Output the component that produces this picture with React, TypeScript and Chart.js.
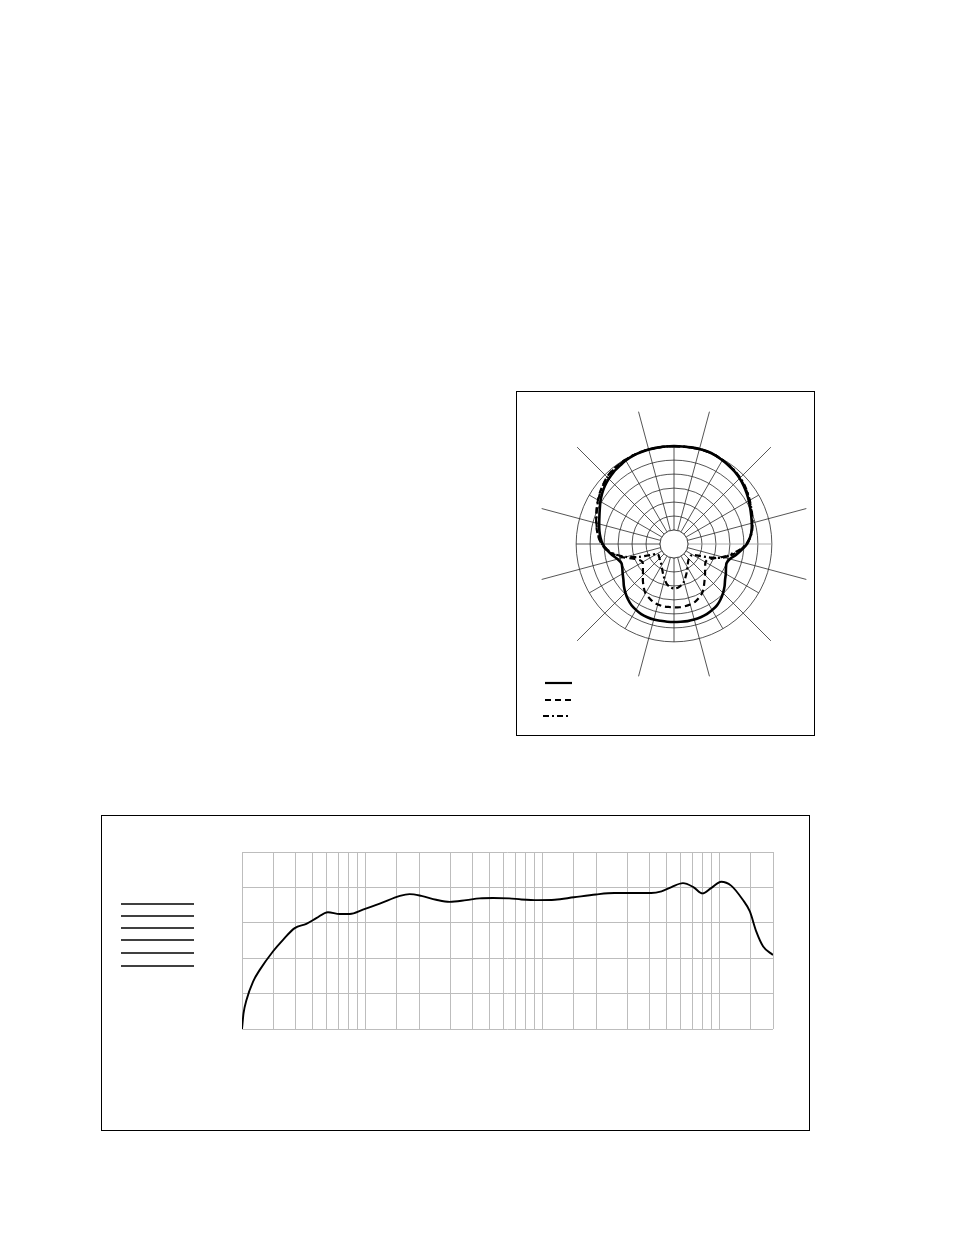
import React, { useEffect, useRef } from 'react';
import { Chart, registerables } from 'chart.js';

Chart.register(...registerables);

// polar pattern: one value every 5 degrees, clockwise from the top (dB)
const polarAngles = Array.from({ length: 72 }, (_, i) => `${i * 5}°`);

const solidDb = [
  0.0, 0.0, 0.1, 0.2, 0.2, 0.0, -0.4, -0.8, -1.2, -1.8, -2.5, -3.3,
  -4.1, -4.9, -5.6, -6.2, -6.8, -7.7, -8.9, -10.7, -12.5, -14.3, -15.0, -14.5,
  -13.6, -12.7, -11.4, -10.2, -9.1, -8.2, -7.7, -7.3, -7.1, -7.0, -7.0, -7.1,
  -7.1, -7.1, -7.1, -7.0, -7.1, -7.3, -7.8, -8.4, -9.3, -10.4, -11.6, -12.9,
  -13.8, -14.6, -15.0, -14.1, -12.5, -10.9, -9.5, -8.6, -7.9, -7.3, -6.6, -5.7,
  -4.6, -3.6, -2.7, -2.0, -1.4, -1.0, -0.5, -0.2, -0.1, 0.0, 0.0, 0.0,
];

const dashedDb = [
  0.0, 0.0, 0.0, 0.1, 0.1, 0.0, -0.3, -0.7, -1.1, -1.7, -2.3, -3.0,
  -3.8, -4.6, -5.4, -6.1, -6.8, -7.7, -9.1, -11.1, -13.6, -17.1, -20.0, -21.8,
  -22.0, -21.4, -20.5, -19.3, -18.0, -16.4, -14.8, -13.8, -13.0, -12.6, -12.4, -12.3,
  -12.3, -12.4, -12.4, -12.6, -13.0, -13.8, -14.6, -16.1, -17.7, -19.3, -20.5, -21.4,
  -22.0, -21.4, -19.6, -16.4, -13.2, -10.7, -9.1, -7.9, -7.0, -6.2, -5.4, -4.5,
  -3.6, -2.7, -1.9, -1.1, -0.6, -0.4, -0.2, -0.1, 0.0, 0.0, 0.0, 0.0,
];

const dashDotDb = [
  0.0, 0.0, 0.1, 0.2, 0.2, 0.0, -0.3, -0.6, -1.0, -1.5, -2.1, -2.9,
  -3.7, -4.5, -5.2, -5.9, -6.6, -7.6, -9.1, -11.4, -14.3, -16.4, -20.7, -25.0,
  -27.1, -27.7, -27.7, -27.5, -27.1, -26.4, -25.4, -24.1, -22.7, -21.1, -20.0, -19.3,
  -19.1, -19.5, -20.4, -22.0, -23.6, -25.0, -26.1, -26.8, -27.3, -27.7, -28.0, -28.2,
  -27.9, -25.7, -21.4, -17.1, -13.6, -11.1, -9.3, -8.0, -7.1, -6.3, -5.5, -4.6,
  -3.7, -2.8, -2.0, -1.3, -0.8, -0.5, -0.3, -0.1, 0.0, 0.0, 0.0, 0.0,
];

const ringDb = [-30, -25, -20, -15, -10, -5, 0];
const polarMin = -35;
const polarMax = 14;

// frequency response
const freqHz = [
  20, 20.4, 21.2, 23.1, 25.2, 29.9, 34.1, 39.7, 46.2, 52.6, 61.2, 71.3,
  81.3, 96.4, 120, 156, 177, 206, 250, 298, 370, 440, 524, 647,
  757, 940, 1170, 1500, 2000, 2540, 3000, 4100, 4690, 5340, 6200, 7090,
  8000, 8940, 10200, 11600, 13500, 14800, 16100, 17600, 20000,
];
const responseDb = [
  -30, -25.6, -21.8, -16.6, -13.3, -8.1, -4.8, -1.5, -0.3, 1.3, 3.0, 2.5,
  2.5, 3.7, 5.4, 7.6, 8.1, 7.6, 6.5, 5.9, 6.4, 6.9, 7.0, 6.9,
  6.6, 6.4, 6.5, 7.2, 8.0, 8.4, 8.4, 8.4, 8.9, 10.1, 11.2, 10.1,
  8.3, 9.8, 11.6, 10.5, 6.5, 3.2, -2.5, -6.7, -9.1,
];
const freqGrid = [
  20, 30, 40, 50, 60, 70, 80, 90, 100, 150, 200, 300, 400, 500, 600, 700, 800, 900,
  1000, 1500, 2000, 3000, 4000, 5000, 6000, 7000, 8000, 9000, 10000, 15000, 20000,
];
const dbGrid = [-30, -20, -10, 0, 10, 20];

const POLAR_GRID = '#2a2a2a';

const polarHole = {
  id: 'polarHole',
  beforeDatasetsDraw(chart: any) {
    const s = chart.scales.r;
    const ctx = chart.ctx;
    const inner = s.getDistanceFromCenterForValue(ringDb[0]);
    const outer = s.getDistanceFromCenterForValue(0);
    ctx.save();
    ctx.lineWidth = 0.8;
    // short spokes every 30 degrees, only inside the outer ring
    for (let i = 0; i < polarAngles.length; i += 6) {
      const a = s.getPointPosition(i, inner);
      const b = s.getPointPosition(i, outer);
      ctx.strokeStyle = i === 18 ? '#9a9a9a' : POLAR_GRID;
      ctx.beginPath();
      ctx.moveTo(a.x, a.y);
      ctx.lineTo(b.x, b.y);
      ctx.stroke();
    }
    ctx.fillStyle = '#fff';
    ctx.strokeStyle = POLAR_GRID;
    ctx.beginPath();
    ctx.arc(s.xCenter, s.yCenter, inner, 0, Math.PI * 2);
    ctx.fill();
    ctx.stroke();
    ctx.restore();
  },
};

const PolarChart: React.FC = () => {
  const ref = useRef<HTMLCanvasElement>(null);

  useEffect(() => {
    if (!ref.current) return;
    const line = (data: number[], width: number, dash: number[]) => ({
      data,
      borderColor: '#000',
      backgroundColor: 'transparent',
      borderWidth: width,
      borderDash: dash,
      pointRadius: 0,
      fill: false,
      tension: 0.25,
    });
    const chart = new Chart(ref.current, {
      type: 'radar',
      data: {
        labels: polarAngles,
        datasets: [
          line(dashedDb, 2.2, [6, 4]),
          line(dashDotDb, 2.2, [6, 3, 2, 3]),
          line(solidDb, 2.6, []),
        ],
      },
      options: {
        animation: false,
        responsive: false,
        events: [],
        plugins: { legend: { display: false }, tooltip: { enabled: false } },
        scales: {
          r: {
            min: polarMin,
            max: polarMax,
            afterBuildTicks: (scale: any) => {
              scale.ticks = ringDb.map((value) => ({ value }));
            },
            ticks: { display: false },
            pointLabels: { display: false },
            grid: { circular: true, color: POLAR_GRID, lineWidth: 0.8 },
            angleLines: {
              display: true,
              lineWidth: 0.8,
              // long spokes at 15°, 45°, 75° ... reach past the rings
              color: (ctx: any) => (ctx.index % 6 === 3 ? POLAR_GRID : 'transparent'),
            },
          },
        },
      } as any,
      plugins: [polarHole],
    });
    return () => chart.destroy();
  }, []);

  return <canvas ref={ref} width={274} height={274} />;
};

const ResponseChart: React.FC = () => {
  const ref = useRef<HTMLCanvasElement>(null);

  useEffect(() => {
    if (!ref.current) return;
    const chart = new Chart(ref.current, {
      type: 'line',
      data: {
        datasets: [
          {
            data: freqHz.map((x, i) => ({ x, y: responseDb[i] })),
            borderColor: '#000',
            borderWidth: 1.9,
            pointRadius: 0,
            fill: false,
            cubicInterpolationMode: 'monotone',
          },
        ],
      },
      options: {
        animation: false,
        responsive: false,
        events: [],
        layout: { padding: 4 },
        plugins: { legend: { display: false }, tooltip: { enabled: false } },
        scales: {
          x: {
            type: 'logarithmic',
            min: 20,
            max: 20000,
            afterBuildTicks: (scale: any) => {
              scale.ticks = freqGrid.map((value) => ({ value }));
            },
            ticks: { display: false },
            grid: { color: '#bdbdbd', lineWidth: 1, drawTicks: false },
            border: { display: false },
          },
          y: {
            min: -30,
            max: 20,
            afterBuildTicks: (scale: any) => {
              scale.ticks = dbGrid.map((value) => ({ value }));
            },
            ticks: { display: false },
            grid: { color: '#bdbdbd', lineWidth: 1, drawTicks: false },
            border: { display: false },
          },
        },
      } as any,
    });
    return () => chart.destroy();
  }, []);

  return <canvas ref={ref} width={539} height={185} />;
};

const abs = (left: number, top: number, extra: React.CSSProperties = {}): React.CSSProperties => ({
  position: 'absolute',
  left,
  top,
  ...extra,
});

export default function App() {
  return (
    <div style={abs(0, 0, { width: 954, height: 1235, background: '#fff', overflow: 'hidden' })}>
      {/* polar pattern panel */}
      <div style={abs(516, 391, { width: 299, height: 345, border: '1px solid #000', boxSizing: 'border-box' })} />
      <div style={abs(537, 407)}>
        <PolarChart />
      </div>
      <svg style={abs(536, 674)} width={44} height={52}>
        <line x1={9} y1={9} x2={36} y2={9} stroke="#000" strokeWidth={2.2} />
        <line x1={9} y1={26} x2={35} y2={26} stroke="#000" strokeWidth={2.2} strokeDasharray="6 4" />
        <line x1={7} y1={42} x2={32} y2={42} stroke="#000" strokeWidth={2.2} strokeDasharray="6 3 2 3" />
      </svg>

      {/* frequency response panel */}
      <div style={abs(101, 815, { width: 709, height: 316, border: '1px solid #000', boxSizing: 'border-box' })} />
      <svg style={abs(115, 895)} width={90} height={80}>
        {[9, 21, 33, 45, 58, 71].map((y) => (
          <line key={y} x1={6} y1={y} x2={79} y2={y} stroke="#000" strokeWidth={1.4} />
        ))}
      </svg>
      <div style={abs(238, 848)}>
        <ResponseChart />
      </div>
    </div>
  );
}
